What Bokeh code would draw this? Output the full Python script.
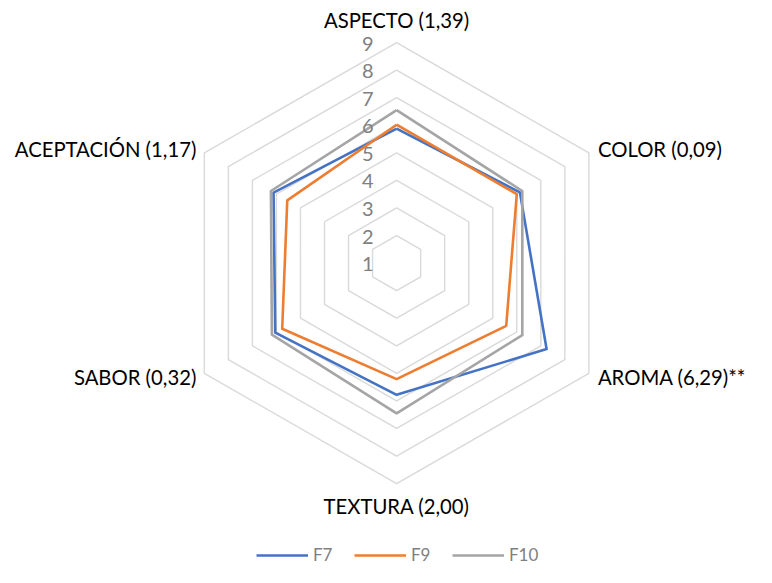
import math
from bokeh.plotting import figure
from bokeh.models import ColumnDataSource, Range1d, Legend, LegendItem
from bokeh.core.properties import value
from bokeh.embed import file_html
from bokeh.resources import INLINE

# ---- data ----
categories = ["ASPECTO (1,39)", "COLOR (0,09)", "AROMA (6,29)**",
              "TEXTURA (2,00)", "SABOR (0,32)", "ACEPTACIÓN (1,17)"]
series_names = ["F7", "F9", "F10"]
f7 = [5.88, 6.13, 7.24, 5.78, 6.05, 6.12]
f9 = [6.02, 6.00, 5.56, 5.21, 5.76, 5.55]
f10 = [6.55, 6.23, 6.23, 6.45, 6.19, 6.23]
tick_values = [1, 2, 3, 4, 5, 6, 7, 8, 9]
tick_labels = ["1", "2", "3", "4", "5", "6", "7", "8", "9"]
axis_min, axis_max = 1, 9

# ---- style / layout ----
colors = ["#4472C4", "#ED7D31", "#A5A5A5"]
grid_color = "#D9D9D9"
FONT = "Lato"
W, H = 756, 567
RW, RH = 772, 583        # design space
PX = 28.34               # design px per unit
CX, CY = 404.5, 270      # center in design px

n = len(categories)
angles = [math.radians(90 - 360.0 * i / n) for i in range(n)]

def to_xy(vals):
    xs = [(v - axis_min) * math.cos(a) for v, a in zip(vals, angles)]
    ys = [(v - axis_min) * math.sin(a) for v, a in zip(vals, angles)]
    return xs + xs[:1], ys + ys[:1]

p = figure(width=W, height=H, output_backend="svg", toolbar_location=None,
           x_range=Range1d(-CX / PX, (RW - CX) / PX),
           y_range=Range1d(-(RH - CY) / PX, CY / PX),
           min_border=0)
p.axis.visible = False
p.grid.visible = False
p.outline_line_color = None
p.background_fill_color = "white"
p.border_fill_color = "white"

# grid rings
for t in tick_values[1:]:
    xs, ys = to_xy([t] * n)
    p.line(xs, ys, line_color=grid_color, line_width=1.4)

# series
renderers = []
for name, vals, c in zip(series_names, [f7, f9, f10], colors):
    xs, ys = to_xy(vals)
    r = p.line(xs, ys, line_color=c, line_width=2.6, line_join="round")
    renderers.append(r)

# tick labels
tsrc = ColumnDataSource(dict(x=[0] * len(tick_values),
                             y=[t - axis_min for t in tick_values],
                             text=tick_labels))
p.text(x="x", y="y", text="text", source=tsrc, text_align="right",
       text_baseline="middle", x_offset=-23, y_offset=1,
       text_font=value(FONT), text_font_size="20px", text_color="#808080")

# category labels
outer = axis_max - axis_min
cx = [outer * math.cos(a) for a in angles]
cy = [outer * math.sin(a) for a in angles]
aligns = ["center", "left", "left", "center", "right", "right"]
xoff = [0, 9, 9, 0, -8, -8]
yoff = [-23, -4, 4, 22, 4, -4]
csrc = ColumnDataSource(dict(x=cx, y=cy, text=categories, align=aligns,
                             xo=xoff, yo=yoff))
p.text(x="x", y="y", text="text", source=csrc, text_align="align",
       text_baseline="middle", x_offset="xo", y_offset="yo",
       text_font=value(FONT), text_font_size="20.3px", text_color="#000000")

legend = Legend(items=[LegendItem(label=nm, renderers=[r])
                       for nm, r in zip(series_names, renderers)],
                orientation="horizontal", location=(256, 2),
                glyph_width=52, glyph_height=16, label_standoff=5,
                spacing=21, padding=0, margin=0,
                label_text_font=FONT, label_text_font_size="17px",
                label_text_color="#808080",
                border_line_color=None, background_fill_alpha=0)
p.add_layout(legend)

open("out.html", "w").write(file_html(p, INLINE))
